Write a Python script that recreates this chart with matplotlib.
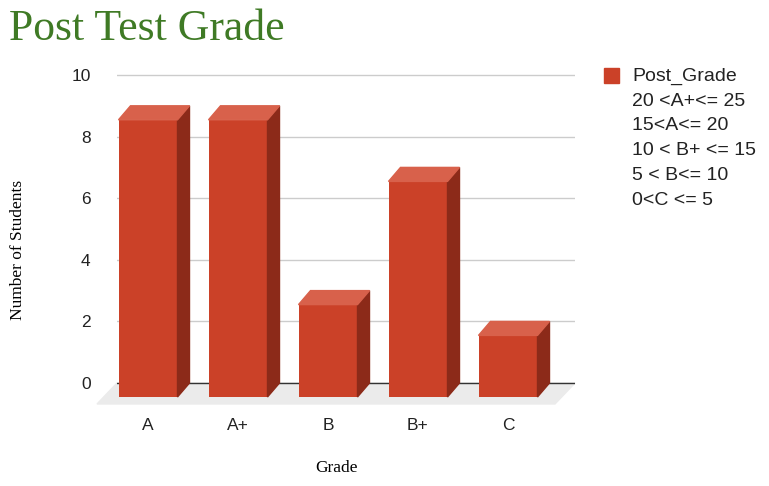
import matplotlib.pyplot as plt
from matplotlib.patches import Polygon, Rectangle

grades = ["A", "A+", "B", "B+", "C"]
students = [9, 9, 3, 7, 2]
legend_lines = ["20 <A+<= 25", "15<A<= 20", "10 < B+ <= 15", "5 < B<= 10", "0<C <= 5"]

front_col = "#cb4128"
side_col = "#8c2a19"
top_col = "#d8614b"

W, H = 769, 486
fig = plt.figure(figsize=(W / 100, H / 100), dpi=100)

# axes placed in pixel units: plot area 117..575 wide, 0 at y=383, 10 at y=75
unit = (383 - 75) / 10.0
ax_left, ax_right, ax_top, ax_bot = 117, 575, 68, 412
ax = fig.add_axes([ax_left / W, 1 - ax_bot / H, (ax_right - ax_left) / W, (ax_bot - ax_top) / H])
step = 90.0
xlim = ((ax_left - 148) / step, (ax_right - 148) / step)
ylim = (-(ax_bot - 383) / unit, 10 + (75 - ax_top) / unit)

dx = 12 / step      # depth offset in x
dy = 14 / unit      # depth offset in y
bw = 59 / step

# gridlines and baseline
for v in range(2, 11, 2):
    ax.axhline(v, color="#cccccc", lw=1, zorder=0)
ax.axhline(0, color="#333333", lw=1, zorder=1)

# floor
x0, x1 = xlim
fdx, fdy = 20 / step, 21 / unit
ax.add_patch(Polygon([(x0 - fdx, -fdy), (x1 - fdx, -fdy), (x1, 0), (x0, 0)],
                     closed=True, color="#ebebeb", zorder=0.5, clip_on=False))

for i, v in enumerate(students):
    l = i - bw / 2
    r = i + bw / 2
    ax.bar(i, v, width=bw, bottom=-dy, color=front_col, zorder=3)
    ax.add_patch(Polygon([(r, -dy), (r + dx, 0), (r + dx, v), (r, v - dy)],
                         closed=True, color=side_col, zorder=3))
    ax.add_patch(Polygon([(l, v - dy), (r, v - dy), (r + dx, v), (l + dx, v)],
                         closed=True, color=top_col, zorder=3))

for s in ax.spines.values():
    s.set_visible(False)
ax.set_yticks(range(0, 11, 2))
ax.set_xticks(range(len(grades)))
ax.set_xticklabels(grades)
ax.set_xlim(*xlim)
ax.set_ylim(*ylim)
ax.tick_params(length=0, labelsize=12.5, labelcolor="#222222")
ax.tick_params(axis="y", pad=19)
ax.tick_params(axis="x", pad=4)
for t in ax.get_xticklabels() + ax.get_yticklabels():
    t.set_family("Liberation Sans")

fig.text(9 / W, 1 - 40 / H, "Post Test Grade", family="Liberation Serif",
         fontsize=31.5, color="#3f7a25")
fig.text(18 / W, 1 - 250 / H, "Number of Students", family="Liberation Serif",
         fontsize=12.5, rotation=90, ha="center", va="center")
fig.text(337 / W, 1 - 468 / H, "Grade", family="Liberation Serif",
         fontsize=12.5, ha="center", va="center")

# legend
fig.patches.append(Rectangle((604 / W, 1 - 83 / H), 15 / W, 15 / H,
                             transform=fig.transFigure, color=front_col))
fig.text(632 / W, 1 - 76 / H, "Post_Grade", family="Liberation Sans",
         fontsize=14, color="#222222", va="center")
for k, line in enumerate(legend_lines):
    fig.text(632 / W, 1 - (101 + 24.8 * k) / H, line, family="Liberation Sans",
             fontsize=14, color="#222222", va="center")

fig.savefig("out.png", dpi=100)
